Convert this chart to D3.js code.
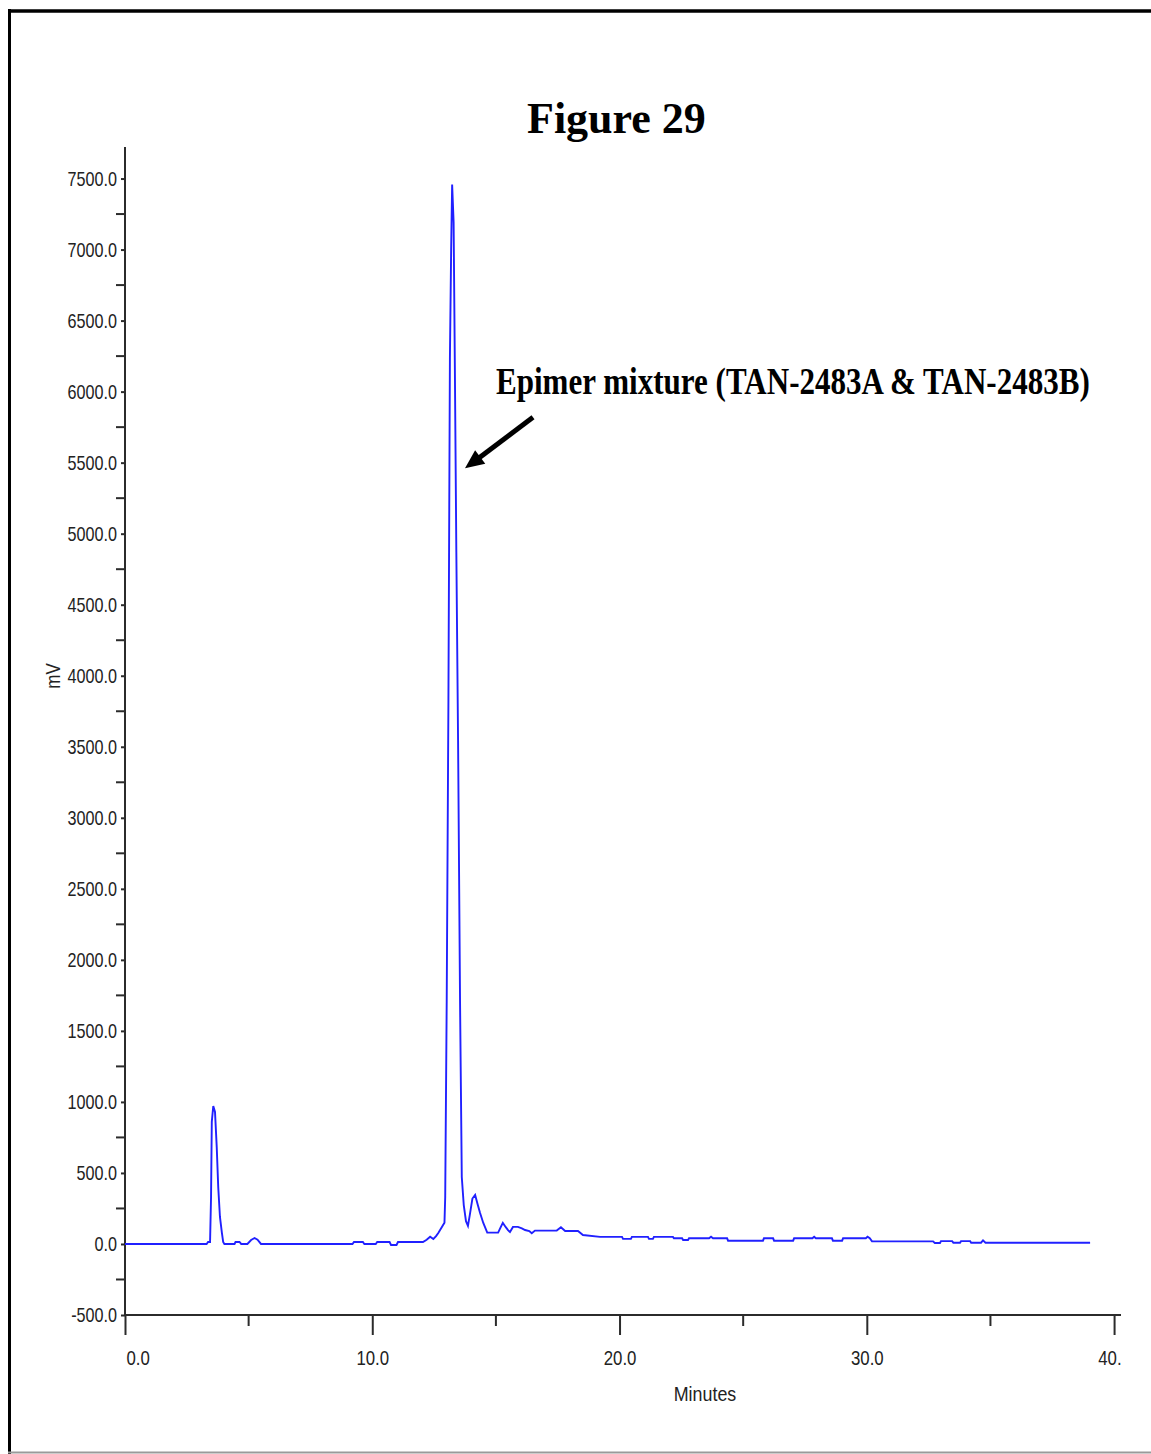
<!DOCTYPE html>
<html>
<head>
<meta charset="utf-8">
<script src="https://cdn.jsdelivr.net/npm/d3@7"></script>
<style>
  html, body { margin: 0; padding: 0; background: #ffffff; }
  svg { display: block; }
</style>
</head>
<body>
<svg id="chart" width="1151" height="1454"></svg>
<script>
// Chromatogram trace: retention time (minutes) and detector response (mV)
const minutes = [
  0.00, 3.30, 3.36, 3.44, 3.48, 3.51, 3.57, 3.64, 3.71, 3.77, 3.84, 3.92, 3.97, 4.02,
  4.43, 4.47, 4.63, 4.70, 4.95, 5.10, 5.24, 5.36, 5.50,
  9.20, 9.26, 9.62, 9.68, 10.14, 10.20, 10.70, 10.76, 10.98, 11.04, 12.05,
  12.20, 12.34, 12.47, 12.58, 12.67, 12.81, 12.92, 12.95, 13.01, 13.08, 13.14, 13.19,
  13.23, 13.29, 13.34, 13.40, 13.47, 13.55, 13.62, 13.70, 13.79, 13.87,
  13.95, 14.05, 14.16, 14.26, 14.36, 14.49, 14.65, 15.09, 15.20, 15.28, 15.40, 15.49,
  15.57, 15.69, 15.89, 16.05, 16.18, 16.35, 16.45, 16.58, 17.46, 17.63, 17.80, 18.32,
  18.52, 19.21, 20.10, 20.14, 20.46, 20.50, 21.15, 21.19, 21.35, 21.39, 22.16, 22.20,
  22.53, 22.57, 22.77, 22.81, 23.62, 23.70, 23.78, 24.35, 24.39, 25.80, 25.84, 26.21,
  26.25, 27.02, 27.06, 27.80, 27.87, 27.94, 28.59, 28.63, 29.00, 29.04, 29.96, 30.03,
  30.12, 30.21, 32.68, 32.75, 32.96, 33.00, 33.45, 33.50, 33.77, 33.81, 34.18, 34.22,
  34.62, 34.70, 34.80, 39.03
];
const signal = [
  0, 0, 14, 14, 330, 860, 971, 929, 682, 401, 190, 77, 14, 0,
  0, 14, 14, 0, 0, 28, 42, 30, 0,
  0, 14, 14, 0, 0, 14, 14, -7, -7, 14, 14,
  30, 51, 35, 55, 77, 117, 150, 330, 1700, 3830, 6240, 7000,
  7458, 7190, 6170, 4870, 3546, 1700, 471, 274, 160, 127,
  210, 320, 345, 280, 218, 148, 80, 80, 120, 148, 118, 98,
  84, 120, 120, 110, 98, 91, 75, 94, 94, 117, 91, 91,
  63, 50, 50, 36, 36, 50, 50, 36, 36, 50, 50, 40,
  40, 28, 28, 40, 40, 51, 40, 40, 23, 23, 40, 40,
  23, 23, 40, 40, 51, 40, 40, 23, 23, 40, 40, 51,
  40, 18, 18, 7, 7, 20, 20, 9, 9, 20, 20, 9,
  9, 25, 9, 9
];

// Axis ticks
const xMajorTicks = [0, 10, 20, 30, 40];
const xMinorTicks = [5, 15, 25, 35];
const yMajorTicks = [-500, 0, 500, 1000, 1500, 2000, 2500, 3000, 3500, 4000, 4500, 5000, 5500, 6000, 6500, 7000, 7500];
const yMinorTicks = [-250, 250, 750, 1250, 1750, 2250, 2750, 3250, 3750, 4250, 4750, 5250, 5750, 6250, 6750, 7250];

const titleText = "Figure 29";
const xAxisTitle = "Minutes";
const yAxisTitle = "mV";
const peakLabel = "Epimer mixture (TAN-2483A & TAN-2483B)";
// Arrow from the label towards the main peak's descending edge (minutes, mV)
const arrowTail = [16.50, 5819];
const arrowTip = [13.75, 5460];

const svg = d3.select("#chart");

// Page frame
svg.append("line").attr("x1", 9.5).attr("y1", 9).attr("x2", 9.5).attr("y2", 1454)
  .attr("stroke", "#000").attr("stroke-width", 3);
svg.append("line").attr("x1", 8).attr("y1", 11).attr("x2", 1151).attr("y2", 11)
  .attr("stroke", "#000").attr("stroke-width", 3.5);
svg.append("line").attr("x1", 8).attr("y1", 1452.5).attr("x2", 1151).attr("y2", 1452.5)
  .attr("stroke", "#9a9a9a").attr("stroke-width", 2);

const x = d3.scaleLinear().domain([0, 40.28]).range([125, 1121]);
const y = d3.scaleLinear().domain([-500, 7722]).range([1315, 147]);

const axisColor = "#2b2b2b";
const sansFont = "'Liberation Sans', Arial, sans-serif";
// One decimal place, plain hyphen for negatives
const fmt = d => d3.format(".1f")(d).replace("\u2212", "-");

// Narrow the sans labels horizontally
function narrow(sel, ratio) {
  sel.each(function () {
    const w = this.getComputedTextLength();
    d3.select(this).attr("textLength", w * ratio).attr("lengthAdjust", "spacingAndGlyphs");
  });
}

// Y axis: major ticks with labels, longer minor ticks between
const yAxisG = svg.append("g").attr("transform", "translate(125,0)")
  .call(d3.axisLeft(y).tickValues(yMajorTicks).tickSize(4).tickPadding(4).tickFormat(fmt));
yAxisG.select(".domain").remove();
yAxisG.selectAll(".tick line").attr("stroke", axisColor).attr("stroke-width", 2);
yAxisG.selectAll(".tick text").attr("fill", "#222").style("font-family", sansFont)
  .style("font-size", "21px");
narrow(yAxisG.selectAll(".tick text"), 0.77);

svg.append("g").selectAll("line").data(yMinorTicks).join("line")
  .attr("x1", 116).attr("x2", 125)
  .attr("y1", d => y(d)).attr("y2", d => y(d))
  .attr("stroke", axisColor).attr("stroke-width", 2);

svg.append("line").attr("x1", 125).attr("x2", 125).attr("y1", 147).attr("y2", y(-500))
  .attr("stroke", axisColor).attr("stroke-width", 2);

// X axis
const clip = svg.append("clipPath").attr("id", "axisClip");
clip.append("rect").attr("x", 0).attr("y", 0).attr("width", 1121).attr("height", 1454);

const xAxisG = svg.append("g").attr("transform", `translate(0,${y(-500)})`)
  .attr("clip-path", "url(#axisClip)")
  .call(d3.axisBottom(x).tickValues(xMajorTicks).tickSize(20).tickPadding(15).tickFormat(fmt));
xAxisG.select(".domain").remove();
xAxisG.selectAll(".tick line").attr("stroke", axisColor).attr("stroke-width", 2);
xAxisG.selectAll(".tick text").attr("fill", "#222").style("font-family", sansFont)
  .style("font-size", "21px");
narrow(xAxisG.selectAll(".tick text"), 0.8);
xAxisG.selectAll(".tick text").filter(d => d === 0)
  .attr("text-anchor", "start").attr("x", 1);

svg.append("g").selectAll("line").data(xMinorTicks).join("line")
  .attr("x1", d => x(d)).attr("x2", d => x(d))
  .attr("y1", y(-500)).attr("y2", y(-500) + 11)
  .attr("stroke", axisColor).attr("stroke-width", 2);

svg.append("line").attr("x1", 125).attr("x2", 1121).attr("y1", y(-500)).attr("y2", y(-500))
  .attr("stroke", axisColor).attr("stroke-width", 2);

// Axis titles
const xt = svg.append("text").attr("x", 705).attr("y", 1401).attr("text-anchor", "middle")
  .attr("fill", "#222").style("font-family", sansFont).style("font-size", "21px")
  .text(xAxisTitle);
narrow(xt, 0.85);
const yt = svg.append("text").attr("transform", "translate(60,676) rotate(-90)")
  .attr("text-anchor", "middle").attr("fill", "#222")
  .style("font-family", sansFont).style("font-size", "20px").text(yAxisTitle);
narrow(yt, 0.85);

// Trace
const pts = minutes.map((m, i) => [m, signal[i]]);
svg.append("path").datum(pts)
  .attr("fill", "none").attr("stroke", "#2020ff").attr("stroke-width", 1.9)
  .attr("stroke-linejoin", "miter")
  .attr("d", d3.line().x(d => x(d[0])).y(d => y(d[1])));

// Title
svg.append("text").attr("x", 527).attr("y", 133)
  .style("font-family", "'Liberation Serif', 'Times New Roman', serif")
  .style("font-weight", "bold").style("font-size", "44px")
  .text(titleText);

// Peak annotation, drawn with a horizontal squeeze
const ann = svg.append("text")
  .style("font-family", "'Liberation Serif', 'Times New Roman', serif")
  .style("font-weight", "bold").style("font-size", "38px")
  .text(peakLabel);
const annW = ann.node().getComputedTextLength();
ann.attr("transform", `translate(496,394) scale(${594 / annW},1)`);

const tx = x(arrowTail[0]), ty = y(arrowTail[1]);
const hx = x(arrowTip[0]), hy = y(arrowTip[1]);
const len = Math.hypot(hx - tx, hy - ty);
const ux = (hx - tx) / len, uy = (hy - ty) / len;
const headLen = 19, headHalf = 8.5;
const bx = hx - ux * headLen, by = hy - uy * headLen;
svg.append("line").attr("x1", tx).attr("y1", ty).attr("x2", bx + ux * 2).attr("y2", by + uy * 2)
  .attr("stroke", "#000").attr("stroke-width", 5);
svg.append("polygon")
  .attr("points", [
    [hx, hy],
    [bx - uy * headHalf, by + ux * headHalf],
    [bx + uy * headHalf, by - ux * headHalf]
  ].map(p => p.join(",")).join(" "))
  .attr("fill", "#000");
</script>
</body>
</html>
